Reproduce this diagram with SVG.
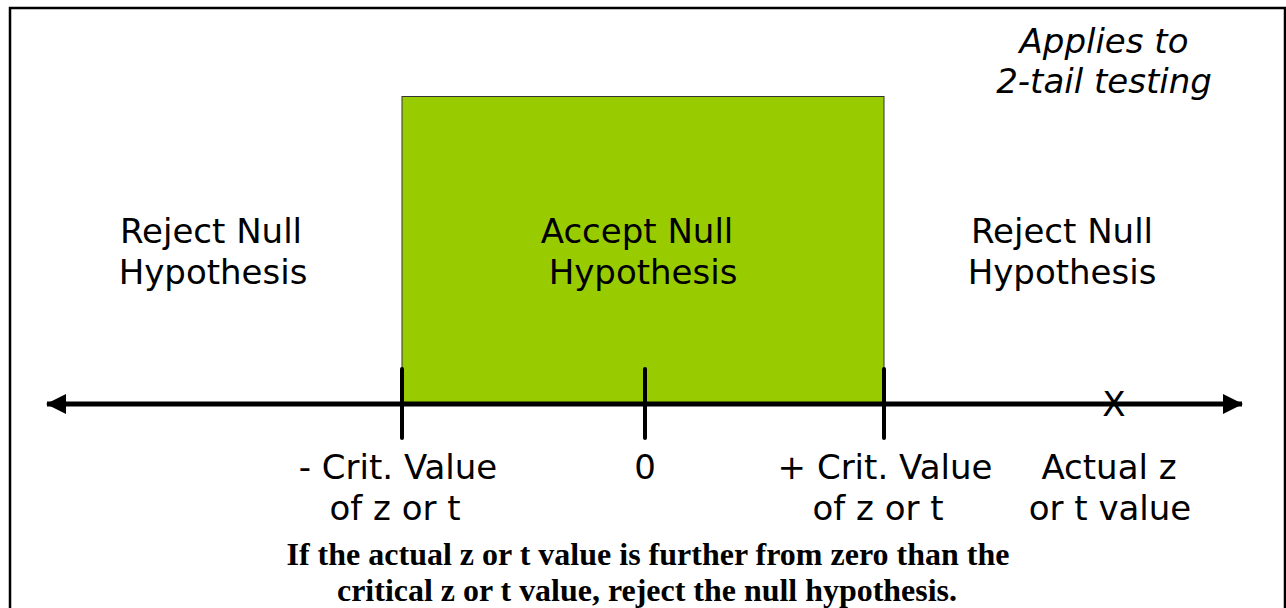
<svg xmlns="http://www.w3.org/2000/svg" width="1286" height="608" viewBox="0 0 1286 608">
<defs>
<style>
.lbl{font-family:"DejaVu Sans","Verdana",sans-serif;font-size:34px;fill:#000;text-anchor:middle}
.it{font-style:italic}
.note{font-family:"Liberation Serif","Times New Roman",serif;font-weight:bold;font-size:31px;fill:#000;text-anchor:middle}
.tick{stroke:#000;stroke-width:4;stroke-linecap:round}
</style>
<marker id="ah" viewBox="0 0 20 20" refX="19" refY="10" markerWidth="20" markerHeight="20" markerUnits="userSpaceOnUse" orient="auto-start-reverse">
<path d="M0,0 L20,10 L0,20 Z" fill="#000"/>
</marker>
</defs>
<rect width="1286" height="608" fill="#fff"/>
<rect x="10" y="8" width="1275" height="620" fill="none" stroke="#000" stroke-width="2.5"/>
<g id="accept-region">
<rect x="402" y="96.5" width="482" height="307.5" fill="#99CC00" stroke="#333" stroke-width="1"/>
<text class="lbl" x="637" y="243">Accept Null</text>
<text class="lbl" x="643" y="284">Hypothesis</text>
</g>
<g id="reject-left">
<text class="lbl" x="211" y="243">Reject Null</text>
<text class="lbl" x="213" y="284">Hypothesis</text>
</g>
<g id="reject-right">
<text class="lbl" x="1062" y="243">Reject Null</text>
<text class="lbl" x="1062" y="284">Hypothesis</text>
</g>
<g id="note-top">
<text class="lbl it" x="1104" y="53">Applies to</text>
<text class="lbl it" x="1104" y="93">2-tail testing</text>
</g>
<g id="connectors">
<line x1="47" y1="404" x2="1242" y2="404" stroke="#000" stroke-width="5" marker-start="url(#ah)" marker-end="url(#ah)"/>
<line class="tick" x1="402" y1="369" x2="402" y2="438"/>
<line class="tick" x1="645" y1="369" x2="645" y2="438"/>
<line class="tick" x1="884" y1="369" x2="884" y2="438"/>
</g>
<g id="x-mark">
<text class="lbl" x="1114" y="416">X</text>
</g>
<g id="neg-crit">
<text class="lbl" x="398" y="479">- Crit. Value</text>
<text class="lbl" x="395" y="520">of z or t</text>
</g>
<g id="zero">
<text class="lbl" x="645" y="479">0</text>
</g>
<g id="pos-crit">
<text class="lbl" x="885" y="479">+ Crit. Value</text>
<text class="lbl" x="878" y="520">of z or t</text>
</g>
<g id="actual">
<text class="lbl" x="1109" y="479">Actual z</text>
<text class="lbl" x="1110" y="520">or t value</text>
</g>
<g id="note-bottom">
<text class="note" x="648" y="565" textLength="723" lengthAdjust="spacingAndGlyphs">If the actual z or t value is further from zero than the</text>
<text class="note" x="647" y="601" textLength="620" lengthAdjust="spacingAndGlyphs">critical z or t value, reject the null hypothesis.</text>
</g>
</svg>
